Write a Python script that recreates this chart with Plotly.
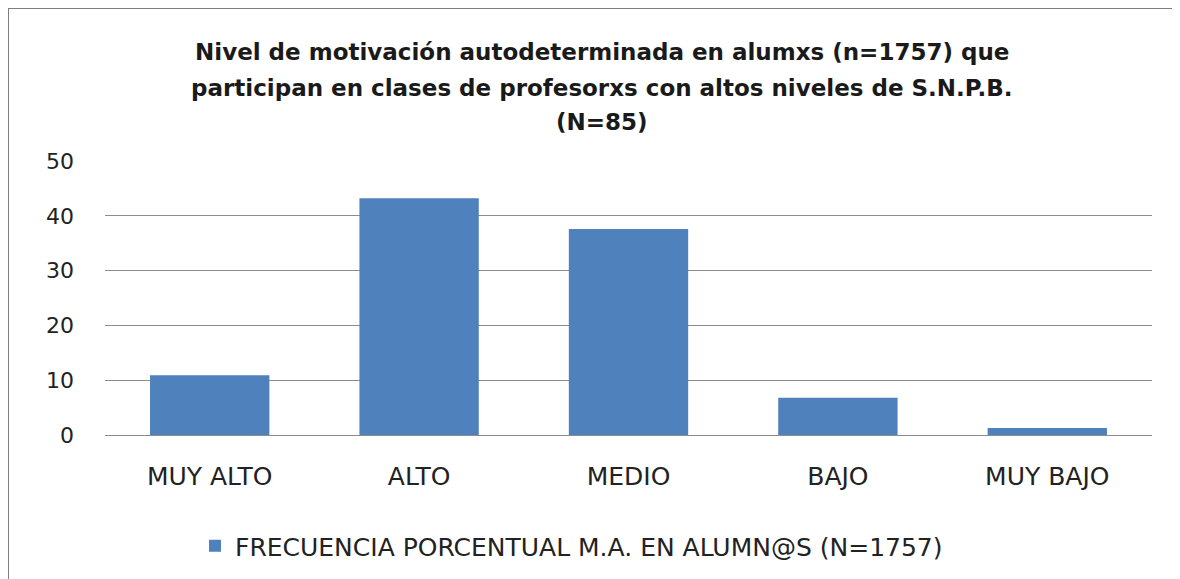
import plotly.graph_objects as go

categories = ["MUY ALTO", "ALTO", "MEDIO", "BAJO", "MUY BAJO"]
values = [10.9, 43.2, 37.6, 6.8, 1.3]
series_name = "FRECUENCIA PORCENTUAL M.A. EN ALUMN@S (N=1757)"
title_lines = [
    "Nivel de motivación autodeterminada en alumxs (n=1757) que",
    "participan en clases de profesorxs con altos niveles de S.N.P.B.",
    "(N=85)",
]
y_ticks = [0, 10, 20, 30, 40, 50]

# page body has an 8px margin; figure is offset by OFF on screen
OFF = 8
W, H = 1180, 579
# desired plot area in screen px: x 105..1152, y 161..435
PL, PR, PT, PB = 105, 1152, 161, 435
L = PL - OFF
T = PT - OFF
R = W - (PR - OFF)
B = H - (PB - OFF)
pw, ph = PR - PL, PB - PT

def px_x(x):
    return (x - PL) / pw

def px_y(y):
    return (PB - y) / ph

fig = go.Figure()
fig.add_trace(go.Bar(
    x=categories, y=values, name=series_name,
    marker=dict(color="#4F81BD", line=dict(width=0)),
    showlegend=True,
))

font_family = "DejaVu Sans"
annotations = []
for ypix, line in zip([52, 88, 122], title_lines):
    annotations.append(dict(
        text="<b>" + line + "</b>", x=px_x(602), y=px_y(ypix),
        xref="paper", yref="paper", xanchor="center", yanchor="middle",
        showarrow=False, font=dict(family=font_family, size=23, color="#1a1a1a"),
    ))

fig.update_layout(
    width=W, height=H,
    margin=dict(l=L, r=R, t=T, b=B, autoexpand=False),
    paper_bgcolor="white", plot_bgcolor="white",
    bargap=0.43,
    annotations=annotations,
    font=dict(family=font_family, color="#222222"),
    legend=dict(
        orientation="h", x=px_x(195), xanchor="left", y=px_y(546), yanchor="middle",
        font=dict(family=font_family, size=25, color="#222222"),
        itemwidth=30,
    ),
    shapes=[
        dict(type="line", xref="paper", yref="paper",
             x0=px_x(OFF), x1=px_x(OFF), y0=px_y(H + 10), y1=px_y(OFF),
             line=dict(color="#7f7f7f", width=2)),
        dict(type="line", xref="paper", yref="paper",
             x0=px_x(OFF), x1=px_x(W + 10), y0=px_y(OFF), y1=px_y(OFF),
             line=dict(color="#7f7f7f", width=2)),
    ],
)
fig.update_yaxes(
    range=[0, 50], tickvals=y_ticks, showgrid=True, gridcolor="#8c8c8c", gridwidth=1,
    zeroline=False, showline=False, ticks="",
    tickfont=dict(family=font_family, size=22, color="#222222"),
    ticklabelstandoff=30,
)
fig.update_xaxes(
    showgrid=False, showline=True, linecolor="#8c8c8c", linewidth=1, ticks="",
    tickfont=dict(family=font_family, size=25, color="#222222"),
    ticklabelstandoff=19,
)

fig.write_html("out.html")
